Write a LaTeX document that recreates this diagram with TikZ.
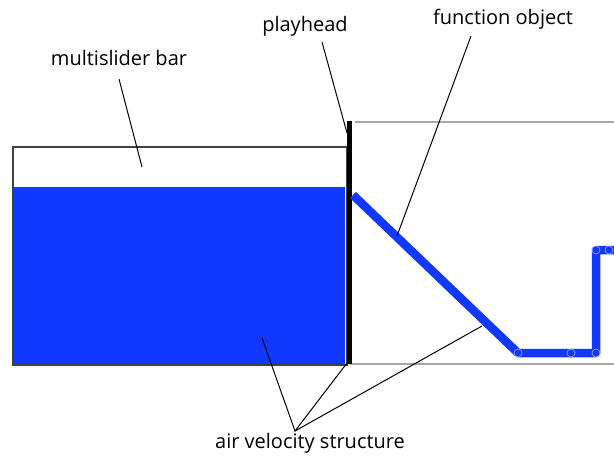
\documentclass[tikz,border=0pt]{standalone}
\usepackage{fontspec}
\setmainfont{Open Sans}
\definecolor{fblue}{RGB}{16,56,255}
\begin{document}
\begin{tikzpicture}[x=1pt,y=-1pt,
  lbl/.style={inner sep=0pt,font=\fontsize{20}{24}\selectfont},
  leader/.style={draw=black,line width=1pt},
  knot/.style={draw=white!55!fblue,line width=0.7pt}]
\useasboundingbox (0,0) rectangle (614,459);
% right box
\draw[gray!70,line width=1.2pt] (355,122) -- (614,122);
\draw[gray!70,line width=1.2pt] (350,364) -- (614,364);
% multislider bar
\fill[fblue] (14,187) rectangle (345,364);
\draw[black!75,line width=1.8pt] (13,147) rectangle (347,365);
% playhead
\draw[line width=5pt] (349,121) -- (349,364);
% function object
\coordinate (p0) at (353,195);
\coordinate (p1) at (518,353);
\coordinate (p2) at (571,353);
\coordinate (p3) at (596,353);
\coordinate (p4) at (596,250);
\coordinate (p5) at (609,250);
\coordinate (p6) at (614,250);
\draw[fblue,line width=8.5pt,line join=round] (p0) -- (p1) -- (p3) -- (p4) -- (p6);
\foreach \p in {p1,p2,p3,p4,p5} \draw[knot] (\p) circle (4pt);
% labels
\node[lbl] (ms) at (119,58) {multislider bar};
\node[lbl] (ph) at (305,26) {playhead};
\node[lbl] (fo) at (503,19) {function object};
\node[lbl] (av) at (310,443) {air velocity structure};
\coordinate (msE) at (142,167);
\coordinate (phE) at (347,133);
\coordinate (foE) at (397,236);
\coordinate (apex) at (295,431);
\coordinate (avA) at (262,338);
\coordinate (avB) at (347,363);
\coordinate (avC) at (482,326);
\draw[leader] (119,79) -- (msE);
\draw[leader] (322,42) -- (phE);
\draw[leader] (471,36) -- (foE);
\draw[leader] (avA) -- (apex) -- (avB);
\draw[leader] (apex) -- (avC);
\end{tikzpicture}
\end{document}
